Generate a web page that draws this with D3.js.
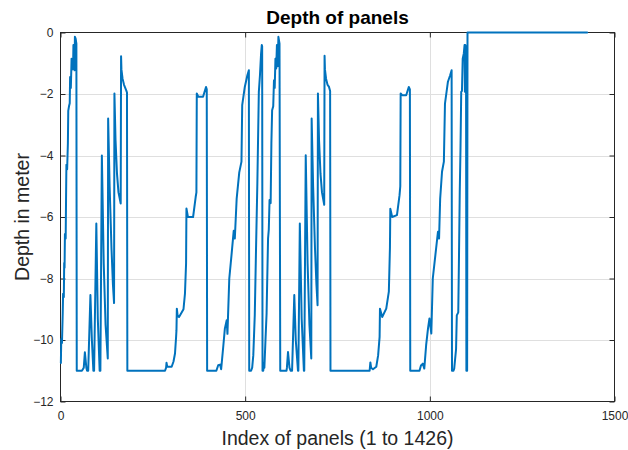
<!DOCTYPE html>
<html>
<head>
<meta charset="utf-8">
<script src="https://cdn.jsdelivr.net/npm/d3@7"></script>
<style>
  html, body { margin: 0; padding: 0; background: #fff; }
  svg { display: block; }
  text { font-family: "Liberation Sans", Arial, Helvetica, sans-serif; }
</style>
</head>
<body>
<svg id="chart" width="628" height="450"></svg>
<script>
// ---- data ----
const chartTitle = "Depth of panels";
const xLabel = "Index of panels (1 to 1426)";
const yLabel = "Depth in meter";
const xTicks = [0, 500, 1000, 1500];
const yTicks = [-12, -10, -8, -6, -4, -2, 0];

// panel index (x) and depth in metres (y), vertices of the traced curve
const panelIndex = [
  1,2,3,4,6,7,9,10,11,12,14,15,16,18,20,21,23,25,26,28,30,32,34,35,36,38,39,41,43,44,
  58,63,66,70,72,75,81,85,89,91,97,101,106,108,112,117,122,128,129,133,138,142,145,146,149,153,157,163,164,165,168,172,178,180,181,
  283,286,287,289,301,306,310,313,314,315,317,321,333,337,340,341,345,359,366,368,369,373,386,394,396,397,
  422,427,432,435,441,445,450,452,457,463,469,472,477,484,490,492,499,506,510,511,
  516,519,522,526,529,533,537,540,543,545,546,547,549,551,552,
  555,558,559,562,564,566,569,571,573,576,578,580,582,584,586,588,590,593,595,
  612,613,616,620,623,627,633,637,643,644,648,653,659,660,664,669,674,679,680,684,689,693,696,697,700,704,708,714,715,716,719,723,727,730,731,
  837,839,841,846,855,860,864,865,871,882,889,892,893,898,911,918,920,921,925,936,943,946,947,
  972,976,981,985,990,995,999,1004,1008,1015,1022,1025,1028,1033,1038,1041,1049,1055,1059,1060,
  1064,1066,1071,1073,1077,1079,1081,1083,1085,1087,1089,1092,1094,1095,1096,1098,1099,1101,1102,1426
];
const panelDepth = [
  -10.75,-10.0,-9.95,-10.1,-9.14,-8.5,-8.6,-7.5,-7.65,-6.55,-6.7,-5.45,-4.3,-4.45,-3.6,-2.55,-2.4,-2.3,-1.45,-1.8,-0.85,-1.2,-1.17,-0.41,-1.0,-1.23,-0.14,-0.2,-0.36,-11.0,
  -11.0,-10.9,-10.4,-10.9,-11.0,-11.0,-8.54,-10.0,-11.0,-11.0,-6.21,-9.3,-11.0,-11.0,-4.0,-7.5,-9.5,-10.6,-2.8,-5.0,-7.0,-8.2,-8.8,-1.98,-3.5,-4.6,-5.2,-5.56,-0.77,-1.2,-1.5,-1.7,-1.88,-1.95,-11.0,
  -11.0,-10.9,-10.74,-10.87,-10.87,-10.7,-10.44,-9.9,-9.68,-8.98,-9.2,-9.25,-9.0,-8.49,-7.51,-5.72,-6.0,-6.0,-5.35,-5.2,-1.98,-2.09,-2.09,-1.77,-1.85,-11.0,
  -11.0,-10.82,-10.8,-10.95,-10.17,-9.63,-9.36,-9.8,-8.0,-7.24,-6.45,-6.7,-5.4,-4.55,-4.2,-2.36,-1.77,-1.39,-1.23,-11.0,
  -11.0,-10.9,-10.5,-9.19,-7.3,-4.9,-1.93,-1.4,-0.7,-0.41,-0.45,-11.0,-11.0,-10.75,-10.9,
  -10.0,-9.14,-8.49,-6.7,-6.4,-5.45,-5.55,-3.6,-2.53,-2.4,-1.55,-1.8,-0.85,-1.17,-0.41,-1.1,-0.14,-0.36,-11.0,
  -11.0,-10.9,-10.39,-10.9,-11.0,-11.0,-8.54,-10.0,-11.0,-11.0,-6.21,-9.3,-11.0,-11.0,-3.99,-7.5,-9.5,-10.6,-2.8,-5.0,-7.0,-8.2,-8.87,-1.98,-3.5,-4.6,-5.2,-5.6,-0.76,-1.2,-1.5,-1.7,-1.77,-1.9,-11.0,
  -11.0,-10.73,-10.9,-10.95,-10.87,-10.5,-9.9,-8.98,-9.25,-8.98,-8.43,-7.0,-5.73,-6.0,-5.94,-5.29,-5.0,-1.98,-2.04,-2.04,-1.77,-1.85,-11.0,
  -11.0,-10.83,-10.77,-10.93,-10.17,-9.63,-9.3,-9.79,-8.0,-7.24,-6.48,-6.7,-5.4,-4.53,-4.2,-2.31,-1.6,-1.39,-1.23,-11.0,
  -11.0,-10.93,-10.3,-9.2,-9.1,-7.24,-5.2,-3.8,-1.93,-1.9,-0.85,-0.68,-0.41,-1.93,-0.41,-0.5,-11.0,-11.0,0,0
];

// ---- layout ----
const svg = d3.select("#chart");
const L = 60.5, R = 614.5, T = 32.5, B = 401.5;
const x = d3.scaleLinear().domain([0, 1500]).range([L, R]);
const y = d3.scaleLinear().domain([-12, 0]).range([B, T]);
const axisColor = "#262626";
const gridColor = "#dfdfdf";

// grid
const grid = svg.append("g");
grid.selectAll("line.gx").data(xTicks.filter(v => v > 0 && v < 1500)).join("line")
  .attr("x1", d => Math.round(x(d)) + 0.5).attr("x2", d => Math.round(x(d)) + 0.5)
  .attr("y1", T).attr("y2", B).attr("stroke", gridColor).attr("stroke-width", 1);
grid.selectAll("line.gy").data(yTicks.filter(v => v > -12 && v < 0)).join("line")
  .attr("y1", d => Math.round(y(d)) + 0.5).attr("y2", d => Math.round(y(d)) + 0.5)
  .attr("x1", L).attr("x2", R).attr("stroke", gridColor).attr("stroke-width", 1);

// axes
function styleAxis(g, labels) {
  g.select(".domain").remove();
  g.selectAll(".tick line").attr("stroke", axisColor).attr("stroke-width", 1);
  g.selectAll(".tick text").attr("fill", axisColor).attr("font-size", "12px")
    .style("display", labels ? null : "none");
}
svg.append("g").attr("transform", `translate(0,${B})`)
  .call(d3.axisBottom(x).tickValues(xTicks).tickFormat(d3.format("d")).tickSize(-5).tickPadding(10))
  .call(g => styleAxis(g, true));
svg.append("g").attr("transform", `translate(0,${T})`)
  .call(d3.axisTop(x).tickValues(xTicks).tickSize(-5))
  .call(g => styleAxis(g, false));
svg.append("g").attr("transform", `translate(${L},0)`)
  .call(d3.axisLeft(y).tickValues(yTicks).tickFormat(d3.format("d")).tickSize(-5).tickPadding(7))
  .call(g => styleAxis(g, true));
svg.append("g").attr("transform", `translate(${R},0)`)
  .call(d3.axisRight(y).tickValues(yTicks).tickSize(-5))
  .call(g => styleAxis(g, false));

// box
svg.append("rect").attr("x", L).attr("y", T).attr("width", R - L).attr("height", B - T)
  .attr("fill", "none").attr("stroke", axisColor).attr("stroke-width", 1);

// line
const pts = panelIndex.map((v, i) => [v, panelDepth[i]]);
svg.append("path").datum(pts)
  .attr("fill", "none").attr("stroke", "#0072BD").attr("stroke-width", 2)
  .attr("stroke-linejoin", "round").attr("stroke-linecap", "round")
  .attr("d", d3.line().x(d => x(d[0])).y(d => y(d[1])));

// texts
svg.append("text").attr("x", (L + R) / 2).attr("y", 24).attr("text-anchor", "middle")
  .attr("font-size", "19px").attr("font-weight", "bold").attr("fill", "#000").text(chartTitle);
svg.append("text").attr("x", (L + R) / 2).attr("y", 445).attr("text-anchor", "middle")
  .attr("font-size", "19.5px").attr("fill", axisColor).text(xLabel);
svg.append("text").attr("transform", `translate(28.5,${(T + B) / 2}) rotate(-90)`)
  .attr("text-anchor", "middle").attr("font-size", "19.5px").attr("fill", axisColor).text(yLabel);
</script>
</body>
</html>
